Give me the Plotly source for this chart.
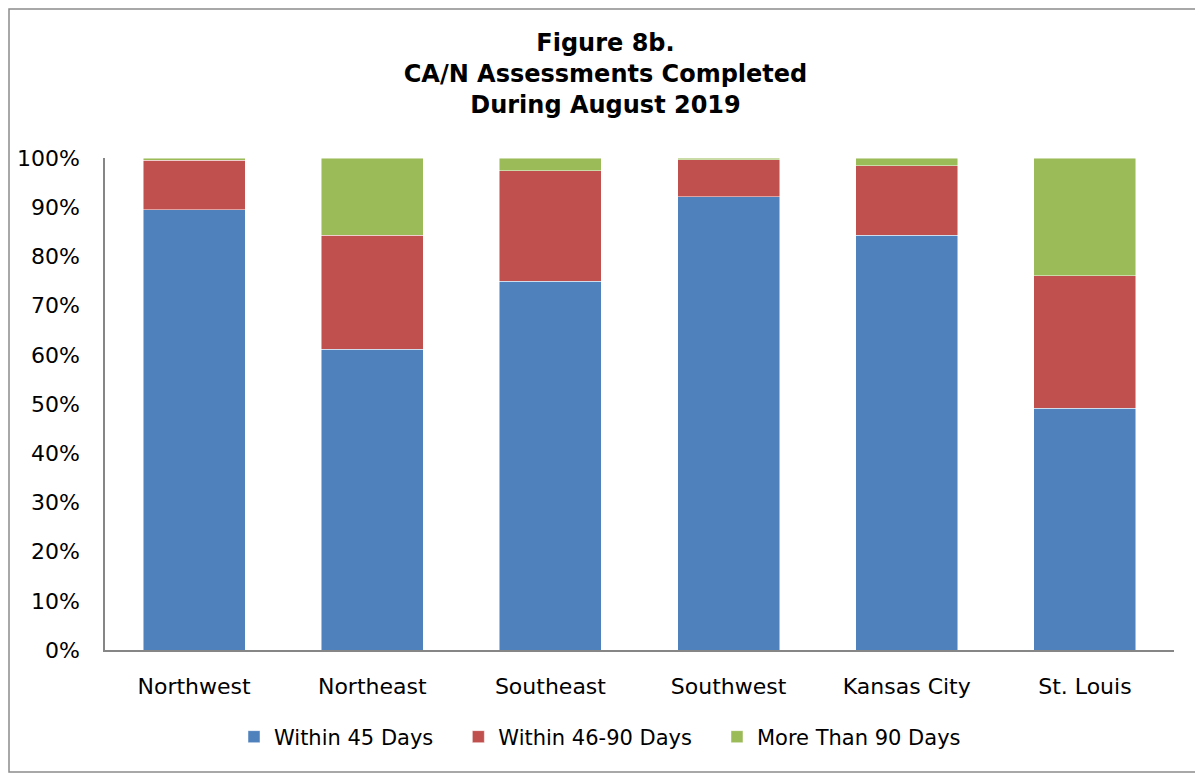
import plotly.graph_objects as go

regions = ["Northwest", "Northeast", "Southeast", "Southwest", "Kansas City", "St. Louis"]
within_45 = [0.895, 0.611, 0.750, 0.921, 0.843, 0.491]
within_46_90 = [0.100, 0.232, 0.224, 0.075, 0.141, 0.270]
more_than_90 = [0.005, 0.157, 0.026, 0.004, 0.016, 0.239]
series_names = ["Within 45 Days", "Within 46-90 Days", "More Than 90 Days"]
colors = ["#4F81BD", "#C0504D", "#9BBB59"]
title_lines = ["Figure 8b.", "CA/N Assessments Completed", "During August 2019"]

font_family = "DejaVu Sans, Verdana, sans-serif"
pad = "\u00a0\u00a0\u00a0"

fig = go.Figure()
series_vals = [within_45, within_46_90, more_than_90]
for i, (name, vals, col) in enumerate(zip(series_names, series_vals, colors)):
    label = name + (pad if i < len(series_names) - 1 else "")
    fig.add_trace(go.Bar(
        x=regions, y=vals, name=label,
        marker=dict(color=col, line=dict(color="rgba(255,255,255,0.6)", width=0.8)),
    ))

# page body has an 8px margin, so the figure is laid out 8px smaller
W, H = 1195, 767
ml, mr, mt, mb = 97, 29, 150, 125
pw, ph = W - ml - mr, H - mt - mb

fig.update_layout(
    width=W, height=H,
    barmode="stack", bargap=0.428,
    plot_bgcolor="white", paper_bgcolor="white",
    margin=dict(l=ml, r=mr, t=mt, b=mb, autoexpand=False),
    font=dict(family=font_family, size=22, color="black"),
    title=dict(
        text="<br>".join(title_lines),
        font=dict(family=font_family, size=24, color="black", weight="bold"),
        x=0.5, xref="container", xanchor="center",
        y=1 - 43 / H, yref="container", yanchor="middle",
    ),
    showlegend=True,
    legend=dict(
        orientation="h", x=(592 - ml) / pw, xanchor="center",
        y=-(729 - (H - mb)) / ph, yanchor="middle",
        font=dict(family=font_family, size=21),
        traceorder="normal", itemwidth=30,
    ),
    xaxis=dict(
        showline=True, linecolor="#868686", linewidth=1.5,
        showgrid=False, ticks="", ticklabelstandoff=16,
        tickfont=dict(size=22),
    ),
    yaxis=dict(
        range=[0, 1], tickformat=".0%", dtick=0.1,
        showline=True, linecolor="#868686", linewidth=1.5,
        showgrid=False, zeroline=False, ticks="", ticklabelstandoff=19,
        tickfont=dict(size=22),
    ),
    shapes=[dict(
        type="rect", xref="paper", yref="paper",
        x0=(1 - ml) / pw, x1=(1192 - ml) / pw,
        y0=((H - mb) - 764) / ph, y1=((H - mb) - 1) / ph,
        line=dict(color="#8C8C8C", width=1.5), fillcolor="rgba(0,0,0,0)", layer="below",
    )],
)

fig.write_html("out.html")
